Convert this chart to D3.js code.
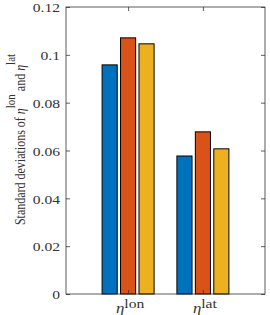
<!DOCTYPE html>
<html>
<head>
<meta charset="utf-8">
<script src="https://cdn.jsdelivr.net/npm/d3@7"></script>
<style>
  body { margin: 0; background: #fff; }
</style>
</head>
<body>
<div id="chart"></div>
<script>
// Données
const categories = ['lon', 'lat'];
const series1 = [0.0958, 0.0577];
const series2 = [0.1071, 0.0678];
const series3 = [0.1046, 0.0607];
const yTicks = [0, 0.02, 0.04, 0.06, 0.08, 0.1, 0.12];
const yTickLabels = ['0', '0.02', '0.04', '0.06', '0.08', '0.1', '0.12'];

const colors = ['#0072BD', '#D95319', '#EDB120'];
const FONT = '"Liberation Serif", "Times New Roman", Times, "DejaVu Serif", serif';
const STRETCH = 1.2; // le texte de la figure d'origine est un peu étiré en largeur
const width = 270, height = 315;
const margin = { top: 7, right: 5, bottom: 21, left: 66 };
const innerW = width - margin.left - margin.right;
const innerH = height - margin.top - margin.bottom;

const svg = d3.select('#chart').append('svg')
    .attr('width', width)
    .attr('height', height)
    .style('font-family', FONT);

const g = svg.append('g').attr('transform', `translate(${margin.left},${margin.top})`);

const x = d3.scalePoint().domain(categories).range([0, innerW]).padding(0.83);
const sub = d3.scaleBand().domain([0, 1, 2]).range([-26, 26]).paddingInner(0.18);
const y = d3.scaleLinear().domain([0, 0.12]).range([innerH, 0]);

// Barres
const seriesList = [series1, series2, series3];
seriesList.forEach((vals, s) => {
    g.selectAll('.bar' + s)
        .data(vals)
        .enter()
        .append('rect')
        .attr('x', (d, i) => x(categories[i]) + sub(s))
        .attr('y', d => y(d))
        .attr('width', sub.bandwidth())
        .attr('height', d => innerH - y(d))
        .attr('fill', colors[s])
        .attr('stroke', '#000')
        .attr('stroke-width', 1);
});

// Axes (style MATLAB, graduations vers l'intérieur)
const axisColor = '#333';
const yLeft = d3.axisLeft(y).tickValues(yTicks).tickFormat((d, i) => yTickLabels[i]).tickSize(-4).tickPadding(6);
const yRight = d3.axisRight(y).tickValues(yTicks).tickFormat('').tickSize(-4);
const xBottom = d3.axisBottom(x).tickSize(-4).tickFormat('');
const xTop = d3.axisTop(x).tickSize(-4).tickFormat('');

const gl = g.append('g').call(yLeft);
g.append('g').attr('transform', `translate(${innerW},0)`).call(yRight);
g.append('g').attr('transform', `translate(0,${innerH})`).call(xBottom);
g.append('g').call(xTop);

g.selectAll('.tick line').attr('stroke', axisColor).attr('stroke-width', 0.8);
g.selectAll('.domain').remove();
gl.selectAll('.tick text')
    .attr('font-size', 13)
    .attr('font-family', FONT)
    .attr('fill', axisColor)
    .attr('x', -6 / STRETCH)
    .attr('dy', '0.36em')
    .attr('transform', `scale(${STRETCH},1)`);
g.append('rect')
    .attr('width', innerW).attr('height', innerH)
    .attr('fill', 'none').attr('stroke', axisColor).attr('stroke-width', 0.8);

// Étiquettes de l'axe x : η^lon, η^lat
categories.forEach(c => {
    const t = g.append('text')
        .attr('transform', `translate(${x(c) + 2},${innerH + 19}) scale(${STRETCH},1)`)
        .attr('text-anchor', 'middle')
        .attr('font-family', FONT)
        .attr('fill', axisColor)
        .attr('font-size', 14);
    t.append('tspan').attr('font-style', 'italic').text('η');
    t.append('tspan').attr('dy', -5).attr('font-size', 13).text(c);
});

// Titre de l'axe y
const yl = svg.append('text')
    .attr('transform', `translate(25,139.5) rotate(-90) scale(1,${STRETCH})`)
    .attr('text-anchor', 'middle')
    .attr('font-family', FONT)
    .attr('fill', axisColor)
    .attr('font-size', 12);
yl.append('tspan').text('Standard deviations of ');
yl.append('tspan').attr('font-style', 'italic').text('η');
yl.append('tspan').attr('dy', -8).attr('font-size', 11).text('lon');
yl.append('tspan').attr('dy', 8).text(' and ');
yl.append('tspan').attr('font-style', 'italic').text('η');
yl.append('tspan').attr('dy', -8).attr('font-size', 11).text('lat');
</script>
</body>
</html>
